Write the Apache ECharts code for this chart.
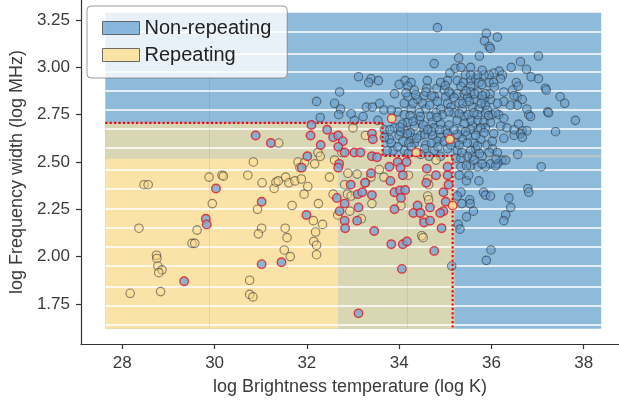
<!DOCTYPE html>
<html>
<head>
<meta charset="utf-8">
<script src="https://cdn.jsdelivr.net/npm/echarts@6/dist/echarts.min.js"></script>
<style>
  html, body { margin: 0; padding: 0; background: #ffffff; }
  #chart { width: 619px; height: 404px; }
</style>
</head>
<body>
<div id="chart"></div>
<script>
// Tick positions
const xTickValues = [28, 30, 32, 34, 36, 38];
const yTickValues = [1.75, 2.00, 2.25, 2.50, 2.75, 3.00, 3.25];

// Decision map (log T, log width): full extent, repeating zone, overlap zones
const mapExtent = [27.63, 1.618, 38.38, 3.288];
const repeatingZone = [27.63, 1.618, 32.69, 2.52];
const overlapZones = [
  [27.63, 2.52, 33.64, 2.705],
  [32.69, 1.618, 35.2, 2.53]
];
const seamZone = [35.2, 2.525, 38.38, 2.537];
const bandEdges = [3.188, 3.074, 2.977, 2.877, 2.775, 2.673, 2.574, 2.458,
                   2.356, 2.255, 2.155, 2.052, 1.952, 1.841, 1.739, 1.639];
const columnSeams = [29.89, 34.18];

// Classifier boundary for the repeating class
const boundaryX = [27.63, 33.64, 33.64, 35.16, 35.16];
const boundaryY = [2.707, 2.707, 2.532, 2.532, 1.618];

// Non-repeating bursts, correctly classified
const nonRepeating = [
  [34.83,3.21],[35.89,3.18],[36.13,3.16],[35.85,3.14],[35.95,3.11],[35.98,3.10],[35.74,3.06],[37.02,3.06],
  [34.76,3.02],[35.29,3.05],[36.63,3.03],[36.43,3.00],[36.76,2.99],[36.86,2.95],[37.02,2.94],[36.17,2.98],
  [36.05,2.97],[35.95,2.96],[35.21,2.995],[35.34,3.00],[35.10,2.97],[35.05,2.93],[33.12,2.95],[33.39,2.94],
  [33.55,2.93],[33.34,2.92],[34.61,2.93],[34.13,2.93],[34.26,2.92],[34.00,2.91],[34.19,2.90],[34.60,2.89],
  [34.82,2.89],[34.98,2.88],[37.17,2.89],[37.19,2.88],[36.27,2.87],[36.46,2.88],[36.54,2.92],[36.56,2.845],
  [37.49,2.845],[37.59,2.81],[32.71,2.87],[32.21,2.82],[32.60,2.81],[32.73,2.78],[32.69,2.75],[33.29,2.79],
  [33.42,2.79],[33.58,2.81],[33.67,2.775],[37.22,2.765],[37.24,2.76],[37.82,2.72],[37.39,2.66],[36.57,2.54],
  [37.08,2.475],[32.29,2.735],[33.22,2.74],[33.03,2.72],[33.54,2.72],[36.20,2.69],[36.27,2.625],[36.49,2.64],
  [36.67,2.665],[36.77,2.665],[36.59,2.70],[36.63,2.65],[36.81,2.75],[36.85,2.74],[36.24,2.96],[36.58,2.90],
  [36.49,2.85],[36.67,2.83],[36.77,2.78],[36.56,2.80],[36.41,2.80],[36.27,2.82],[36.13,2.81],[35.98,2.83],
  [35.84,2.83],[35.70,2.87],[35.62,2.83],[35.59,2.79],[35.73,2.78],[35.87,2.76],[36.02,2.75],[36.16,2.75],
  [36.27,2.73],[35.70,2.72],[35.84,2.71],[35.98,2.71],[36.34,2.68],[36.49,2.67],[36.67,2.63],[36.05,2.65],
  [35.87,2.68],[35.70,2.67],[35.59,2.69],[35.77,2.62],[35.91,2.59],[36.02,2.57],[36.13,2.55],[36.23,2.51],
  [36.13,2.49],[35.98,2.49],[35.80,2.53],[35.66,2.57],[35.70,2.475],[35.87,2.475],[35.59,2.53],[35.55,2.93],
  [35.66,2.94],[35.73,2.92],[35.84,2.96],[36.20,2.94],[35.80,2.91],[35.95,2.92],[36.05,2.92],[35.97,2.86],
  [35.55,3.00],[35.70,2.96],[34.90,2.92],[35.44,2.96],[35.26,2.93],[35.39,2.92],[35.34,2.90],[35.55,2.90],
  [33.90,2.86],[34.33,2.88],[34.54,2.85],[35.12,2.86],[35.26,2.86],[35.41,2.86],[35.55,2.87],[35.87,2.86],
  [34.19,2.845],[34.40,2.83],[34.76,2.845],[35.01,2.845],[35.19,2.84],[35.48,2.84],[34.11,2.81],[34.51,2.81],
  [34.83,2.82],[35.05,2.81],[35.30,2.81],[35.87,2.80],[34.26,2.78],[34.58,2.78],[34.90,2.78],[35.12,2.79],
  [35.37,2.78],[35.91,2.775],[33.97,2.765],[34.11,2.75],[34.44,2.76],[34.69,2.74],[34.94,2.75],[35.19,2.76],
  [35.41,2.74],[35.70,2.75],[34.19,2.71],[34.44,2.72],[34.72,2.71],[34.90,2.70],[35.26,2.72],[35.55,2.72],
  [33.90,2.68],[34.11,2.67],[34.33,2.69],[34.54,2.67],[34.76,2.68],[35.01,2.67],[35.34,2.67],[35.55,2.67],
  [35.77,2.68],[34.00,2.64],[34.26,2.63],[34.47,2.64],[34.72,2.64],[34.90,2.63],[35.48,2.64],[33.79,2.62],
  [34.08,2.61],[34.33,2.60],[34.58,2.59],[34.83,2.61],[35.23,2.60],[35.37,2.62],[35.62,2.60],[33.87,2.56],
  [34.11,2.56],[34.76,2.56],[35.05,2.57],[35.26,2.56],[35.55,2.56],[34.65,2.53],[34.90,2.53],[35.23,2.52],
  [35.48,2.53],[35.55,2.48],[35.34,2.475],[33.83,2.775],[33.68,2.67],[33.68,2.63],[33.74,2.56],
  [35.46,2.40],[35.73,2.40],[35.83,2.34],[35.87,2.325],[35.98,2.32],[36.38,2.31],[36.42,2.26],[36.31,2.22],
  [36.27,2.19],[35.61,2.24],[35.46,2.21],[35.34,2.34],[35.36,2.28],[35.53,2.30],[35.54,2.28],[35.26,2.32],
  [35.28,2.17],[35.32,2.145],[35.99,2.035],[35.89,1.98],[35.14,1.95],[36.79,2.36],[36.81,2.34],[35.46,2.48],
  [35.80,2.49],[36.09,2.48],[35.34,2.52],[35.62,2.51],[36.31,2.51],[35.30,2.43],[35.51,2.43],
  [35.55,2.96],[35.80,2.985],[35.00,2.905],[36.06,2.895],[34.15,2.865],[34.36,2.855],[34.58,2.87],[34.70,2.85],
  [35.08,2.87],[35.45,2.875],[35.64,2.86],[35.80,2.85],[34.30,2.81],[34.66,2.80],[35.38,2.81],[35.52,2.82],
  [35.78,2.81],[34.24,2.745],[34.46,2.74],[34.80,2.76],[35.08,2.765],[35.30,2.755],[35.50,2.75],[35.62,2.76],
  [35.94,2.745],[36.09,2.76],[34.07,2.70],[34.30,2.715],[34.52,2.695],[35.08,2.695],[35.41,2.705],[34.03,2.66],
  [34.24,2.655],[34.38,2.625],[34.56,2.645],[34.70,2.66],[35.26,2.645],[35.44,2.66],[35.66,2.64],[35.84,2.655],
  [34.21,2.60],[35.30,2.59],[35.48,2.60],[35.70,2.585],[36.02,2.61],[35.36,2.55],[35.74,2.545],[35.95,2.55],
  [36.10,2.515],[32.96,2.755],[34.82,2.735],[33.80,2.67],[34.02,2.685],[34.18,2.65],[34.62,2.67],[34.88,2.67],
  [35.05,2.65],[35.19,2.67],[33.83,2.60],[33.97,2.58],[34.26,2.58],[34.55,2.57],[34.70,2.60],[34.84,2.58],
  [34.98,2.61],[35.12,2.59],[34.20,2.545],[34.47,2.54]
];

// Repeating bursts, correctly classified
const repeating = [
  [30.84,2.50],[31.81,2.50],[32.24,2.55],[32.29,2.53],[31.85,2.47],[31.95,2.496],[32.17,2.49],[32.60,2.51],
  [29.88,2.42],[30.16,2.43],[30.19,2.425],[30.72,2.43],[28.47,2.38],[28.56,2.38],[31.03,2.39],[31.29,2.36],
  [31.33,2.393],[31.38,2.40],[31.54,2.42],[31.61,2.39],[31.74,2.40],[31.88,2.41],[32.02,2.37],[31.94,2.33],
  [32.49,2.42],[32.57,2.33],[29.95,2.28],[30.93,2.25],[31.68,2.27],[32.25,2.28],[32.14,2.19],[32.34,2.17],
  [32.67,2.22],[28.36,2.15],[29.62,2.14],[31.02,2.15],[30.95,2.12],[31.53,2.15],[31.57,2.10],[32.19,2.13],
  [32.15,2.08],[32.21,2.06],[32.21,2.01],[29.51,2.07],[29.57,2.07],[28.74,2.007],[28.75,1.99],[28.77,1.95],
  [28.86,1.93],[28.79,1.915],[31.51,2.035],[31.64,2.00],[30.76,1.875],[28.17,1.806],[28.83,1.815],[30.76,1.80],
  [30.83,1.787],[31.39,2.60],
  [32.89,2.44],[33.09,2.436],[33.39,2.42],[33.67,2.42],[34.20,2.43],[32.82,2.38],[32.88,2.33],[32.96,2.32],
  [33.27,2.39],[33.41,2.28],[33.57,2.46],[34.62,2.41],[34.64,2.38],[34.62,2.32],[34.64,2.30],[34.04,2.27],
  [34.54,2.20],[34.49,2.11],[34.52,2.10],[32.93,2.24],[33.18,2.20],[34.80,2.51],[33.00,2.68],[33.27,2.64],
  [32.76,2.55]
];

// Non-repeating bursts that fall inside the repeating zone
const nonRepeatingMissed = [
  [30.89,2.64],[31.22,2.60],[32.10,2.695],[32.08,2.64],[32.44,2.67],[32.30,2.59],[32.57,2.63],[32.68,2.64],
  [32.01,2.53],[31.89,2.47],[32.70,2.49],[32.68,2.47],[30.03,2.36],[31.02,2.29],[32.65,2.31],[31.99,2.22],
  [32.71,2.24],[29.81,2.20],[29.83,2.17],[31.02,1.96],[31.45,1.97],[29.34,1.87],[33.03,2.55],[33.16,2.55],
  [32.82,2.55],[33.41,2.53],[33.52,2.525],[33.79,2.475],[33.97,2.50],[34.16,2.50],[34.03,2.47],[34.08,2.43],
  [33.39,2.44],[33.26,2.39],[33.81,2.40],[32.95,2.38],[32.82,2.28],[32.82,2.19],[32.83,2.15],[33.10,2.33],
  [33.20,2.34],[33.41,2.325],[33.12,2.26],[33.09,2.19],[33.90,2.34],[34.02,2.35],[34.13,2.352],[34.04,2.31],
  [33.90,2.25],[34.31,2.23],[34.40,2.27],[34.46,2.23],[34.54,2.18],[34.67,2.26],[34.67,2.19],[34.59,2.39],
  [34.60,2.465],[34.80,2.43],[35.05,2.43],[34.96,2.34],[35.01,2.29],[35.07,2.38],[34.96,2.24],[34.89,2.23],
  [34.92,2.15],[33.46,2.135],[33.83,2.065],[34.08,2.065],[34.17,2.08],[34.76,2.03],[34.06,1.935],[33.12,1.70],
  [32.78,2.61],[32.68,2.58],[33.41,2.65],[33.43,2.62],[35.05,2.475]
];

// Repeating bursts that fall outside the repeating zone
const repeatingMissed = [[33.84,2.73],[35.10,2.62],[34.37,2.55],[35.16,2.27]];

const FONT = '"Liberation Sans", Arial, sans-serif';
const TEXT = '#3a3a3a';
const BLUE_BG = '#8ebbda';
const YELLOW_BG = '#fbe3a7';
const OLIVE_BG = '#d9d6b4';
const SEAM_BG = '#b8c8c9';

function area(r, color) {
  return [{ xAxis: r[0], yAxis: r[1], itemStyle: { color: color } }, { xAxis: r[2], yAxis: r[3] }];
}

const chart = echarts.init(document.getElementById('chart'), null, { renderer: 'canvas' });

chart.setOption({
  animation: false,
  backgroundColor: '#ffffff',
  grid: { left: 78, right: 0, top: 0, bottom: 60, containLabel: false },
  legend: {
    orient: 'vertical',
    left: 87, top: 6,
    padding: [12, 16, 13, 15],
    itemWidth: 37, itemHeight: 13, itemGap: 7,
    selectedMode: false,
    backgroundColor: 'rgba(255,255,255,0.8)',
    borderColor: 'rgba(120,120,120,0.75)', borderWidth: 1, borderRadius: 4,
    textStyle: { fontFamily: FONT, fontSize: 20, color: '#222', lineHeight: 20 },
    data: [
      { name: 'Non-repeating', icon: 'rect', itemStyle: { color: '#6fa8d6', borderColor: '#4a4a4a', borderWidth: 1 } },
      { name: 'Repeating', icon: 'rect', itemStyle: { color: '#fde08f', borderColor: '#4a4a4a', borderWidth: 1 } }
    ]
  },
  xAxis: {
    type: 'value', min: 27.104, max: 38.766,
    name: 'log Brightness temperature (log K)', nameLocation: 'middle', nameGap: 34,
    nameTextStyle: { fontFamily: FONT, fontSize: 18, color: TEXT },
    splitLine: { show: false },
    axisLine: { onZero: false, lineStyle: { color: '#333', width: 1.2 } },
    axisTick: { show: true, length: 5, customValues: xTickValues, lineStyle: { color: '#333', width: 1.2 } },
    axisLabel: { customValues: xTickValues, fontFamily: FONT, fontSize: 17, color: TEXT, margin: 11,
                 formatter: v => String(v) }
  },
  yAxis: {
    type: 'value', min: 1.538, max: 3.356,
    name: 'log Frequency width (log MHz)', nameLocation: 'middle', nameGap: 52, nameRotate: 90,
    nameTextStyle: { fontFamily: FONT, fontSize: 18, color: TEXT },
    splitLine: { show: false },
    axisLine: { show: true, onZero: false, lineStyle: { color: '#333', width: 1.2 } },
    axisTick: { show: true, length: 5, customValues: yTickValues, lineStyle: { color: '#333', width: 1.2 } },
    axisLabel: { customValues: yTickValues, fontFamily: FONT, fontSize: 17, color: TEXT, margin: 11,
                 formatter: v => v.toFixed(2) }
  },
  series: [
    {
      name: 'decision map', type: 'line', data: [], silent: true, z: 1,
      markArea: {
        silent: true, z: 1,
        data: [
          area(mapExtent, BLUE_BG),
          area(repeatingZone, YELLOW_BG),
          ...overlapZones.map(r => area(r, OLIVE_BG)),
          area(seamZone, SEAM_BG)
        ]
      }
    },
    {
      name: 'map bands', type: 'line', data: [], silent: true, z: 2,
      markLine: {
        silent: true, z: 2, symbol: ['none', 'none'], label: { show: false },
        lineStyle: { color: '#ffffff', width: 1.5, type: 'solid', opacity: 1 },
        emphasis: { disabled: true },
        data: bandEdges.map(y => [{ coord: [mapExtent[0], y] }, { coord: [mapExtent[2], y] }])
      }
    },
    {
      name: 'map columns', type: 'line', data: [], silent: true, z: 2,
      markLine: {
        silent: true, z: 2, symbol: ['none', 'none'], label: { show: false },
        lineStyle: { color: 'rgba(60,100,140,0.12)', width: 1, type: 'solid', opacity: 1 },
        emphasis: { disabled: true },
        data: columnSeams.map(x => [{ coord: [x, mapExtent[1]] }, { coord: [x, mapExtent[3]] }])
      }
    },
    {
      name: 'Non-repeating', type: 'scatter', data: nonRepeating, symbolSize: 8.5, z: 5, silent: true,
      itemStyle: { color: 'rgba(92,152,202,0.58)', borderColor: 'rgba(48,54,60,0.75)', borderWidth: 1.1 },
      emphasis: { disabled: true }
    },
    {
      name: 'Repeating', type: 'scatter', data: repeating, symbolSize: 8.5, z: 5, silent: true,
      itemStyle: { color: 'rgba(252,218,140,0.55)', borderColor: 'rgba(50,50,50,0.72)', borderWidth: 1.1 },
      emphasis: { disabled: true }
    },
    {
      name: 'boundary', type: 'line', data: boundaryX.map((x, i) => [x, boundaryY[i]]),
      showSymbol: false, symbol: 'none', silent: true, z: 6,
      lineStyle: { color: '#ff0000', width: 2.2, type: 'dotted' },
      emphasis: { disabled: true }
    },
    {
      name: 'Non-repeating in repeating zone', type: 'scatter', data: nonRepeatingMissed, symbolSize: 8.5, z: 7, silent: true,
      itemStyle: { color: '#6fa8d6', borderColor: '#e8131c', borderWidth: 1.4 },
      emphasis: { disabled: true }
    },
    {
      name: 'Repeating outside repeating zone', type: 'scatter', data: repeatingMissed, symbolSize: 8.5, z: 7, silent: true,
      itemStyle: { color: '#fde38f', borderColor: '#ee1c1c', borderWidth: 1.4 },
      emphasis: { disabled: true }
    }
  ]
});
</script>
</body>
</html>
